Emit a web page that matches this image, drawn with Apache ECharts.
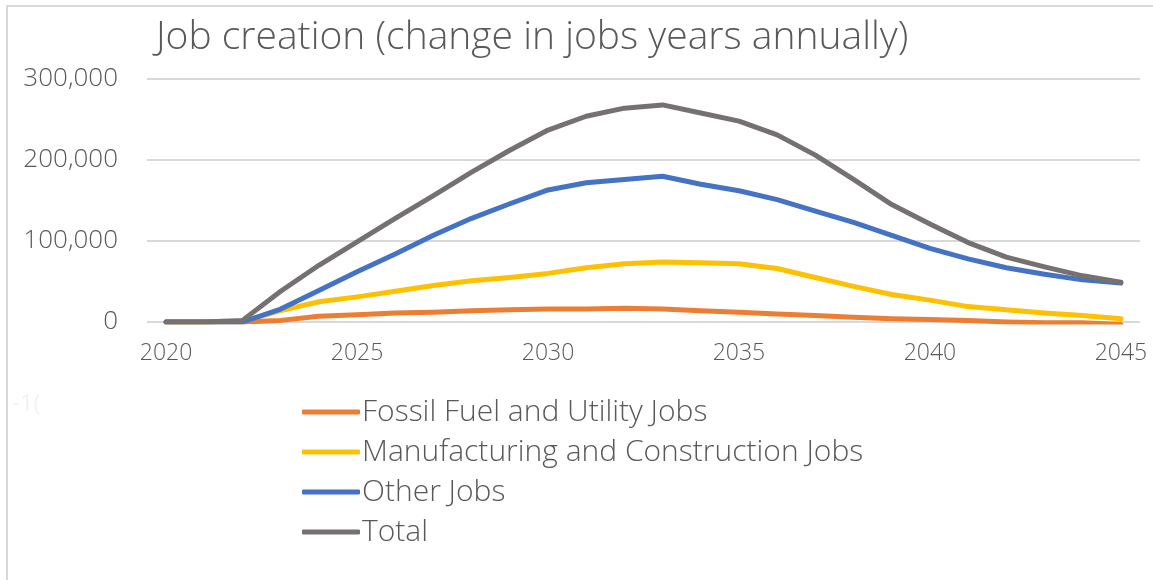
<!DOCTYPE html>
<html>
<head>
<meta charset="utf-8">
<script src="https://cdn.jsdelivr.net/npm/echarts@6/dist/echarts.min.js"></script>
<style>
  html, body { margin: 0; padding: 0; background: #ffffff; }
  #chart { width: 1153px; height: 580px; }
</style>
</head>
<body>
<div id="chart"></div>
<script>
// Years on the category axis
const years = ['2020','2021','2022','2023','2024','2025','2026','2027','2028','2029','2030','2031','2032',
               '2033','2034','2035','2036','2037','2038','2039','2040','2041','2042','2043','2044','2045'];

// Change in jobs per year, by sector
const fossilFuelUtility = [0, 0, 0, 2000, 7000, 9000, 11000, 12000, 14000, 15000, 16000, 16000, 17000,
                           16000, 14000, 12000, 10000, 8000, 6000, 4000, 3000, 2000, 0, -1000, -1000, -3000];
const manufacturingConstruction = [0, 0, 1000, 14000, 25000, 31000, 38000, 45000, 51000, 55000, 60000, 67000, 72000,
                                   74000, 73000, 72000, 66000, 55000, 44000, 34000, 27000, 19000, 15000, 11000, 8000, 4000];
const otherJobs = [0, 0, 0, 16000, 39000, 62000, 84000, 107000, 128000, 146000, 163000, 172000, 176000,
                   180000, 170000, 162000, 151000, 137000, 123000, 107000, 91000, 78000, 67000, 59000, 52000, 48000];
const totalJobs = [0, 0, 2000, 38000, 70000, 99000, 128000, 156000, 185000, 212000, 237000, 254000, 264000,
                   268000, 258000, 248000, 231000, 206000, 176000, 145000, 121000, 98000, 80000, 68000, 57000, 49000];

const seriesNames = ['Fossil Fuel and Utility Jobs', 'Manufacturing and Construction Jobs', 'Other Jobs', 'Total'];
const seriesColors = ['#ED7D31', '#FFC000', '#4472C4', '#767171'];
const seriesData = [fossilFuelUtility, manufacturingConstruction, otherJobs, totalJobs];

const FONT = '"Open Sans", Lato, sans-serif';
const TEXT = '#595959';

const chart = echarts.init(document.getElementById('chart'), null, { renderer: 'canvas' });

chart.setOption({
  animation: false,
  backgroundColor: '#ffffff',
  title: {
    text: 'Job creation (change in jobs years annually)',
    left: 151,
    top: 13,
    textStyle: { fontFamily: FONT, fontSize: 39, fontWeight: 300, color: TEXT }
  },
  graphic: [
    { type: 'line', shape: { x1: 6, y1: 6, x2: 1153, y2: 6 }, style: { stroke: '#d9d9d9', lineWidth: 2 } },
    { type: 'line', shape: { x1: 7, y1: 6, x2: 7, y2: 580 }, style: { stroke: '#d9d9d9', lineWidth: 2 } },
    { type: 'text', left: 12, top: 392, style: { text: '-1(', fontFamily: FONT, fontSize: 24, fill: '#f2f2f2' } }
  ],
  grid: { left: 147, right: 13, top: 79, bottom: 258, containLabel: false },
  legend: {
    orient: 'vertical',
    left: 297,
    top: 392,
    itemWidth: 58,
    itemHeight: 5,
    itemGap: 10,
    icon: 'roundRect',
    textStyle: { fontFamily: FONT, fontSize: 30, fontWeight: 300, color: TEXT, padding: [0, 0, 0, -3] },
    data: seriesNames
  },
  xAxis: {
    type: 'category',
    data: years,
    boundaryGap: true,
    axisLine: { show: false },
    axisTick: { show: false },
    axisLabel: {
      interval: 4,
      margin: 20,
      fontFamily: FONT,
      fontSize: 23,
      fontWeight: 300,
      color: TEXT
    }
  },
  yAxis: {
    type: 'value',
    min: 0,
    max: 300000,
    interval: 100000,
    axisLine: { show: false },
    axisTick: { show: false },
    splitLine: { lineStyle: { color: '#d9d9d9', width: 2 } },
    axisLabel: {
      margin: 29,
      fontFamily: FONT,
      fontSize: 26,
      fontWeight: 300,
      color: TEXT,
      formatter: v => v.toLocaleString('en-US')
    }
  },
  series: seriesData.map((d, i) => ({
    name: seriesNames[i],
    type: 'line',
    data: d,
    symbol: 'none',
    smooth: false,
    lineStyle: { width: 5, color: seriesColors[i], cap: 'round', join: 'round' },
    itemStyle: { color: seriesColors[i] }
  }))
});
</script>
</body>
</html>
